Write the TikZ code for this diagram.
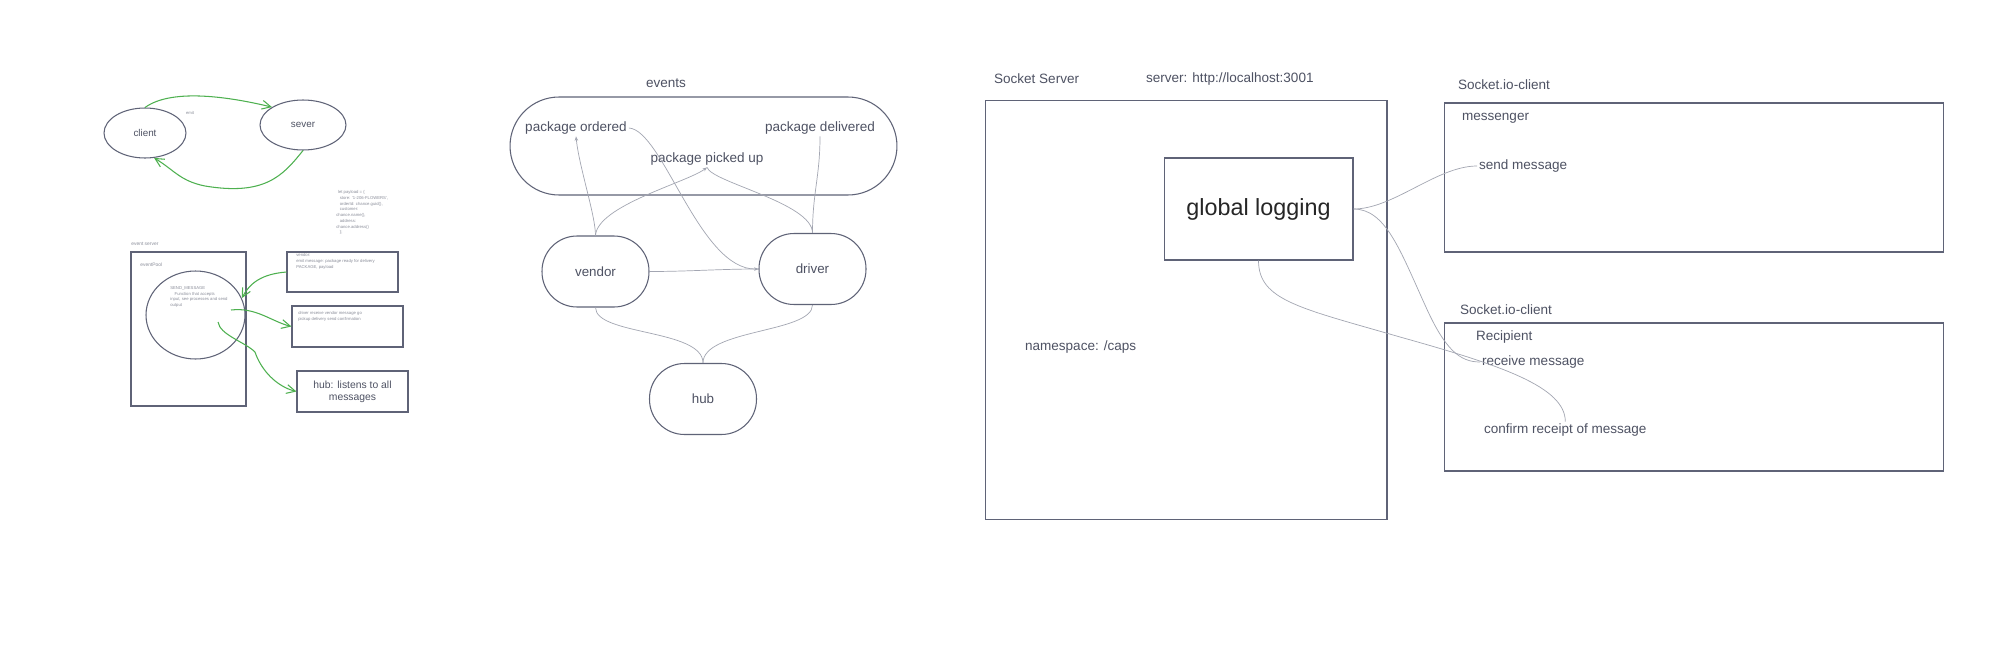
\documentclass[tikz,border=0pt]{standalone}
\usepackage{fontspec}
\setmainfont{Liberation Sans}
\usetikzlibrary{shapes.geometric,arrows.meta}

\definecolor{boxline}{HTML}{5F6377}
\definecolor{wiregray}{HTML}{A3A6B2}
\definecolor{txtgray}{HTML}{4E5263}
\definecolor{notegray}{HTML}{8A8D99}
\definecolor{markgreen}{HTML}{4DB04F}

\begin{document}
\begin{tikzpicture}[x=0.02cm, y=-0.02cm,
  box/.style={draw=boxline, line width=0.6pt, inner sep=0pt},
  pill/.style={box, rounded corners=0.7cm, minimum width=2.14cm, minimum height=1.42cm, font=\fontsize{7.6}{9}\selectfont, text=txtgray},
  oval/.style={box, ellipse, font=\fontsize{5.6}{7}\selectfont, text=txtgray},
  lbl/.style={font=\fontsize{7.7}{9}\selectfont, text=txtgray, inner sep=1pt},
  tiny/.style={font=\fontsize{2.4}{3.3}\selectfont, text=notegray, inner sep=0pt, align=left},
  wire/.style={draw=wiregray, line width=0.4pt},
  tip/.style={-{Stealth[length=2.5pt,width=2pt]}},
  green arrow/.style={draw=markgreen, line width=0.6pt, -{Straight Barb[length=5pt,width=5pt]}}
]
  \fill[white] (0,0) rectangle (1992,646);
  \useasboundingbox (0,0) rectangle (1992,646);

  % client / server sketch
  \node[oval, minimum width=1.64cm, minimum height=1cm] (client) at (145,133) {client};
  \node[oval, minimum width=1.72cm, minimum height=1cm] (server) at (303,125) {sever};
  \node[tiny] (emit) at (190,113) {emit};
  \draw[green arrow] (client.north) .. controls +(25,-18) and +(-50,-12) .. (server.150);
  \draw[green arrow] (server.south) .. controls +(-20,25) and +(60,10) .. (205,186) .. controls +(-25,-5) and +(20,12) .. (client.-70);

  \node[tiny, anchor=north west] (payload) at (336,190) {\hspace{1pt}let payload = \{\\
    \hspace{2pt}store: '1-206-FLOWERS',\\
    \hspace{2pt}orderId: chance.guid(),\\
    \hspace{2pt}customer:\\
    chance.name(),\\
    \hspace{2pt}address:\\
    chance.address()\\
    \hspace{2pt}\};};

  % event server and eventPool
  \node[tiny, font=\fontsize{2.8}{3.4}\selectfont, anchor=west] (eslabel) at (131,244) {event server};
  \node[box, minimum width=2.3cm, minimum height=3.08cm] (eventserver) at (188.5,329) {};
  \node[tiny, font=\fontsize{2.8}{3.4}\selectfont, anchor=west] (poollabel) at (140,265) {eventPool};
  \node[box, ellipse, minimum width=1.98cm, minimum height=1.76cm] (pool) at (195.5,315) {};
  \node[tiny, anchor=north west] (sendmsg) at (170,286) {SEND\_MESSAGE\\\hspace{2.5pt}Function that accepts\\input, see processes and send\\output};

  \node[box, minimum width=2.22cm, minimum height=0.8cm] (vnote) at (342.5,272) {};
  \node[tiny, anchor=north west] (vnotetext) at (296,253) {vendor:\\emit message: package ready for delivery\\PACKAGE, payload};
  \node[box, minimum width=2.22cm, minimum height=0.82cm] (dnote) at (347.5,326.5) {};
  \node[tiny, anchor=north west] (dnotetext) at (298,311) {driver receive vendor message go\\pickup delivery send confirmation};
  \node[box, minimum width=2.22cm, minimum height=0.82cm, align=center, font=\fontsize{5.9}{7}\selectfont, text=txtgray] (hnote) at (352.5,391.5) {hub: listens to all\\messages};

  \coordinate (emitA) at (231,310);
  \coordinate (emitB) at (218,322);
  \draw[green arrow] (vnote.west) .. controls +(-25,2) and +(8,-15) .. (pool.20);
  \draw[green arrow] (emitA) .. controls +(25,-3) and +(-20,-5) .. (dnote.west);
  \draw[green arrow] (emitB) .. controls +(2,13) and +(-10,-10) .. (255,352) .. controls +(6,18) and +(-20,-5) .. (hnote.west);

  % events and roles
  \node[lbl] (eventslabel) at (666,83) {events};
  \node[box, rounded corners=0.98cm, minimum width=7.74cm, minimum height=1.96cm] (events) at (703.5,146) {};
  \node[lbl] (ordered) at (576,128) {package ordered};
  \node[lbl] (delivered) at (820,128) {package delivered};
  \node[lbl] (picked) at (707,159) {package picked up};
  \node[pill] (vendor) at (595.5,271.5) {vendor};
  \node[pill] (driver) at (812.5,269) {driver};
  \node[pill] (hub) at (703,399) {hub};

  \draw[wire, tip] (vendor.north) .. controls +(0,-20) and +(3,30) .. (ordered.south);
  \draw[wire, tip] (vendor.north) .. controls +(2,-30) and +(-20,15) .. (picked.south);
  \draw[wire, tip] (ordered.east) .. controls +(34,2) and +(-59,1) .. (driver.west);
  \draw[wire] (picked.south) .. controls +(5,15) and +(0,-30) .. (driver.north);
  \draw[wire] (delivered.south) .. controls +(0,40) and +(0,-40) .. (driver.north);
  \draw[wire] (vendor.east) .. controls +(40,0) and +(-40,0) .. (driver.west);
  \draw[wire] (vendor.south) .. controls +(0,28) and +(0,-34) .. (hub.north);
  \draw[wire] (driver.south) .. controls +(0,28) and +(0,-34) .. (hub.north);

  % socket server and clients
  \node[lbl, anchor=west] (sslabel) at (992,79) {Socket Server};
  \node[lbl, anchor=west] (url) at (1144,79) {server: http://localhost:3001};
  \node[box, minimum width=8.04cm, minimum height=8.4cm] (socketserver) at (1186,310) {};
  \node[box, minimum width=3.78cm, minimum height=2.04cm, font=\fontsize{13.3}{15}\selectfont, text=black!85] (logging) at (1258.5,209) {global logging};
  \node[lbl, anchor=west] (namespace) at (1023,347) {namespace: /caps};

  \node[lbl, anchor=west] (client1label) at (1456,85) {Socket.io-client};
  \node[box, minimum width=10cm, minimum height=2.98cm] (messenger) at (1694,177.5) {};
  \node[lbl, anchor=west] (messengerlabel) at (1460,118) {messenger};
  \node[lbl, anchor=west] (send) at (1477,166) {send message};

  \node[lbl, anchor=west] (client2label) at (1458,310) {Socket.io-client};
  \node[box, minimum width=10cm, minimum height=2.96cm] (recipient) at (1694,397) {};
  \node[lbl, anchor=west] (recipientlabel) at (1474,337) {Recipient};
  \node[lbl, anchor=west] (receive) at (1480,362) {receive message};
  \node[lbl, anchor=west] (confirm) at (1482,430) {confirm receipt of message};

  \draw[wire] (logging.east) .. controls +(40,0) and +(-40,0) .. (send.west);
  \draw[wire] (logging.east) .. controls +(32,0) and +(-25,-55) .. (1425,305) .. controls +(20,45) and +(-20,0) .. (receive.west);
  \draw[wire] (logging.south) .. controls +(0,40) and +(-100,-29) .. (1400,337) .. controls +(100,28) and +(0,-35) .. (confirm.north);
\end{tikzpicture}
\end{document}
